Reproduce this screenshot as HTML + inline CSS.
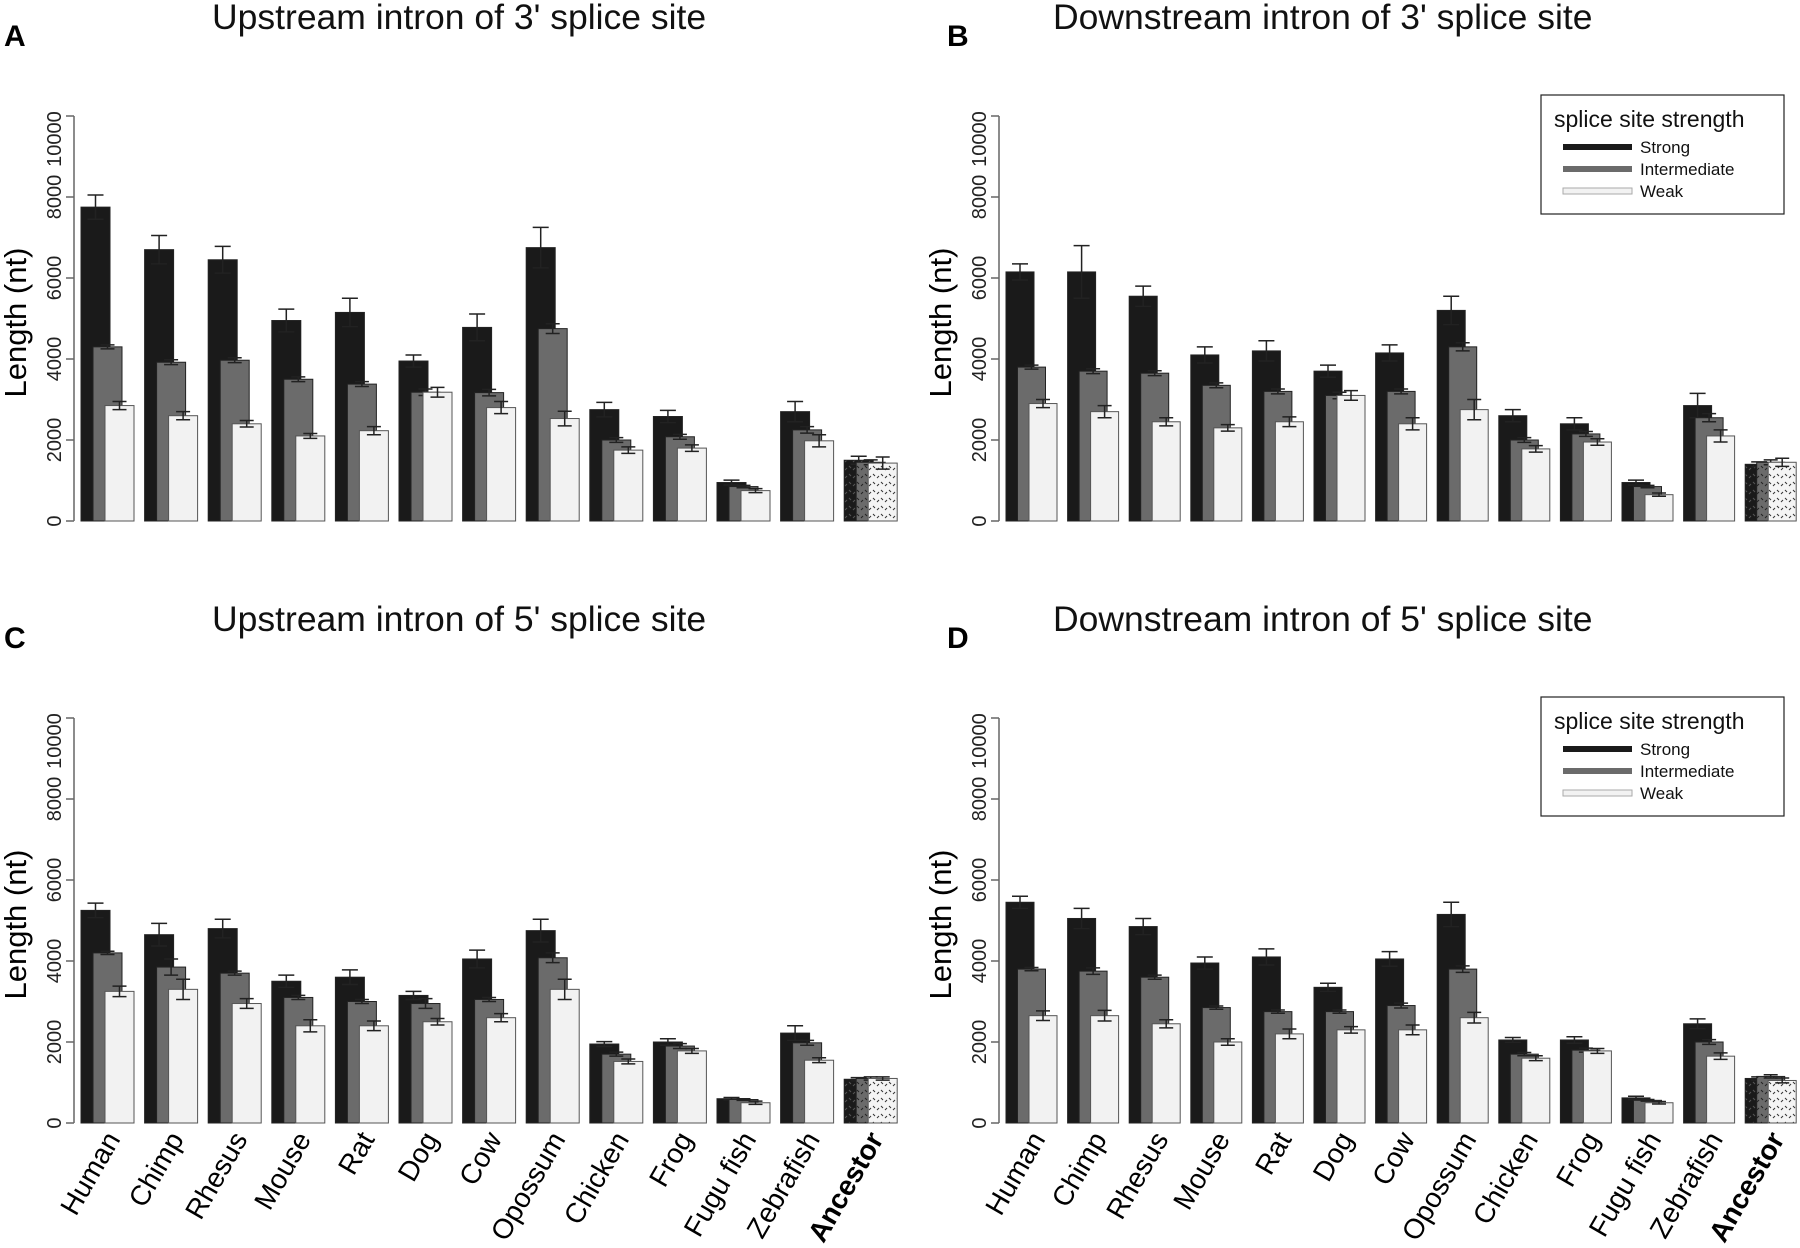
<!DOCTYPE html>
<html><head><meta charset="utf-8"><style>
body{margin:0;background:#fff}
svg{display:block;font-family:"Liberation Sans",Arial,sans-serif}
</style></head><body>
<svg id="chart" width="1800" height="1248" viewBox="0 0 1800 1248" xmlns="http://www.w3.org/2000/svg">
<defs>
<pattern id="hatchS" width="8" height="8" patternUnits="userSpaceOnUse"><rect width="8" height="8" fill="#1a1a1a"/><path d="M1 2l2 2M5 6l2 -2" stroke="#555" stroke-width="1"/></pattern>
<pattern id="hatchI" width="8" height="8" patternUnits="userSpaceOnUse"><rect width="8" height="8" fill="#6b6b6b"/><path d="M1 2l2 2M5 6l2 -2" stroke="#222" stroke-width="1"/></pattern>
<pattern id="hatchW" width="8" height="8" patternUnits="userSpaceOnUse"><rect width="8" height="8" fill="#f4f4f4"/><path d="M1 2l2 2M5 6l2 -2" stroke="#333" stroke-width="1"/></pattern>
</defs>
</svg>
<script>
const categories=["Human","Chimp","Rhesus","Mouse","Rat","Dog","Cow","Opossum","Chicken","Frog","Fugu fish","Zebrafish","Ancestor"];
const yTicks=[0,2000,4000,6000,8000,10000];
const aStrong=[7750,6700,6450,4950,5150,3950,4780,6750,2750,2580,950,2700,1500];
const aInter=[4300,3920,3970,3500,3380,3180,3170,4750,2000,2080,850,2250,1450];
const aWeak=[2850,2600,2400,2100,2230,3180,2800,2530,1750,1800,750,1980,1430];
const aErrS=[300,350,330,280,350,150,330,500,180,150,60,250,100];
const aErrI=[50,60,60,60,60,80,80,120,60,60,30,80,60];
const aErrW=[100,100,80,60,100,120,150,180,80,80,50,150,150];
const bStrong=[6150,6150,5550,4100,4200,3700,4150,5200,2600,2400,950,2850,1400];
const bInter=[3800,3700,3650,3350,3200,3100,3200,4300,2000,2150,850,2550,1450];
const bWeak=[2900,2700,2450,2300,2450,3100,2400,2750,1780,1950,650,2100,1450];
const bErrS=[200,650,250,200,250,150,200,350,150,150,60,300,60];
const bErrI=[50,60,60,60,60,80,60,100,60,60,30,100,60];
const bErrW=[100,150,100,80,120,120,150,250,80,80,40,150,100];
const cStrong=[5250,4650,4800,3500,3600,3150,4050,4750,1950,2000,600,2220,1080];
const cInter=[4200,3850,3700,3100,3000,2950,3050,4080,1700,1900,580,1980,1100];
const cWeak=[3250,3300,2950,2400,2400,2500,2600,3300,1520,1780,500,1550,1100];
const cErrS=[180,280,230,150,180,100,220,280,60,80,30,180,40];
const cErrI=[40,200,50,50,50,120,50,120,50,60,20,60,40];
const cErrW=[130,250,120,150,120,80,100,250,60,60,40,60,40];
const dStrong=[5450,5050,4850,3950,4100,3350,4050,5150,2050,2050,620,2450,1100];
const dInter=[3800,3750,3600,2850,2750,2750,2900,3800,1700,1800,560,2000,1150];
const dWeak=[2650,2650,2450,2000,2200,2300,2300,2600,1600,1780,500,1650,1050];
const dErrS=[150,250,200,150,200,100,180,300,60,80,40,120,40];
const dErrI=[40,80,50,40,40,40,60,80,40,50,20,60,40];
const dErrW=[120,130,100,80,120,80,120,130,60,60,30,80,60];

const NS="http://www.w3.org/2000/svg";
const svg=document.getElementById('chart');
function mk(tag,attrs,parent){const e=document.createElementNS(NS,tag);for(const k in attrs)e.setAttribute(k,attrs[k]);(parent||svg).appendChild(e);return e;}

const panels=[
 {letter:"A",title:"Upstream intron of 3' splice site",ax:74,lx:4,tx:212,gs:63.6,bw:29,off:12,y0:521,s:aStrong,i:aInter,w:aWeak,es:aErrS,ei:aErrI,ew:aErrW,legend:false,labels:false},
 {letter:"B",title:"Downstream intron of 3' splice site",ax:999,lx:947,tx:1053,gs:61.6,bw:28,off:11.5,y0:521,s:bStrong,i:bInter,w:bWeak,es:bErrS,ei:bErrI,ew:bErrW,legend:true,labels:false},
 {letter:"C",title:"Upstream intron of 5' splice site",ax:74,lx:4,tx:212,gs:63.6,bw:29,off:12,y0:1123,s:cStrong,i:cInter,w:cWeak,es:cErrS,ei:cErrI,ew:cErrW,legend:false,labels:true},
 {letter:"D",title:"Downstream intron of 5' splice site",ax:999,lx:947,tx:1053,gs:61.6,bw:28,off:11.5,y0:1123,s:dStrong,i:dInter,w:dWeak,es:dErrS,ei:dErrI,ew:dErrW,legend:true,labels:true}
];
const H=405;
panels.forEach((p,pi)=>{
 const g=mk('g',{});
 
 
 const top=p.y0-H;
 const BW=p.bw, OFF=p.off, GS=p.gs;
 const y=v=>p.y0-v/10000*H;
 const x=k=>p.ax+7+k*GS;
 const L=mk('text',{x:p.lx,y:top-70,'font-size':30,'font-weight':'bold',fill:'#000'},g);L.textContent=p.letter;
 
 
 const T=mk('text',{x:p.tx,y:top-87,'font-size':35.5,fill:'#111'},g);T.textContent=p.title;
 
 
 const ax=mk('line',{x1:p.ax,y1:y(0),x2:p.ax,y2:y(10000),stroke:'#666','stroke-width':1.5},g);
 
 
 yTicks.forEach(t=>{
  mk('line',{x1:p.ax-8,y1:y(t),x2:p.ax,y2:y(t),stroke:'#666','stroke-width':1.5},g);
  const ty=y(t)+(t===10000?23:0);
  const tl=mk('text',{x:0,y:0,'font-size':20,fill:'#222','text-anchor':'middle',transform:`translate(${p.ax-13},${ty}) rotate(-90)`},g);
  tl.textContent=t;
  
  
 });
 const yt=mk('text',{x:0,y:0,'font-size':31,fill:'#000','text-anchor':'middle',transform:`translate(${p.ax-48},${y(4900)}) rotate(-90)`},g);
 yt.textContent="Length (nt)";
 
 
 const series=[[p.s,p.es,'#1a1a1a','url(#hatchS)','strong'],[p.i,p.ei,'#6b6b6b','url(#hatchI)','intermediate'],[p.w,p.ew,'#f2f2f2','url(#hatchW)','weak']];
 categories.forEach((c,k)=>{
  series.forEach((sr,j)=>{
   const v=sr[0][k], e=sr[1][k];
   const bx=x(k)+j*OFF;
   const r=mk('rect',{x:bx,y:y(v),width:BW,height:y(0)-y(v),fill:k===12?sr[3]:sr[2],stroke:j===2?'#555':'#222','stroke-width':1},g);
   
   
   const cx=bx+BW/2, cw=j===0?8:7;
   mk('path',{d:`M${cx},${y(v-e)}V${y(v+e)}M${cx-cw},${y(v+e)}H${cx+cw}M${cx-cw},${y(v-e)}H${cx+cw}`,stroke:'#222','stroke-width':1.5,fill:'none'},g);
  });
  if(p.labels){
   const lt=mk('text',{x:0,y:0,'font-size':28,fill:'#000','text-anchor':'end','font-weight':k===12?'bold':'normal',transform:`translate(${x(k)+40},${p.y0+16}) rotate(-60)`},g);
   lt.textContent=c;
   
   
  }
 });
 if(p.legend){
  const lg=mk('g',{},g);
  
  
  const lt=top-21;
  mk('rect',{x:1541,y:lt,width:243,height:119,fill:'#fff',stroke:'#222','stroke-width':1.2},lg);
  const tt=mk('text',{x:1554,y:lt+32,'font-size':23,fill:'#111'},lg);tt.textContent="splice site strength";
  [['Strong','#1a1a1a'],['Intermediate','#6b6b6b'],['Weak','#f2f2f2']].forEach((it,n)=>{
   const yy=lt+52+n*22;
   if(n===2) mk('rect',{x:1563,y:yy-3,width:69,height:6,fill:'#f2f2f2',stroke:'#aaa','stroke-width':1},lg);
   else mk('rect',{x:1563,y:yy-3,width:69,height:6,fill:it[1]},lg);
   const et=mk('text',{x:1640,y:yy+6,'font-size':17,fill:'#111'},lg);et.textContent=it[0];
   
   
  });
 }
});
</script>
</body></html>
